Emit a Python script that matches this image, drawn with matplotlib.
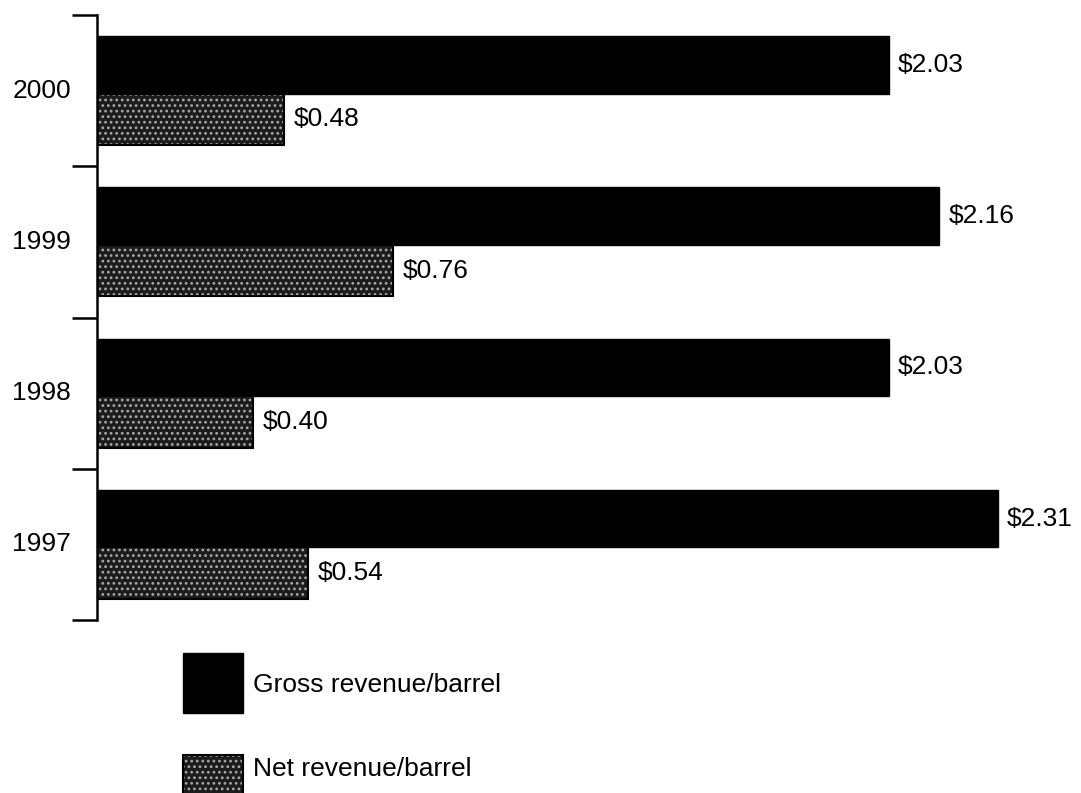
import matplotlib
matplotlib.use("Agg")
import matplotlib.pyplot as plt
from matplotlib.patches import Rectangle
import numpy as np

years = ["1997", "1998", "1999", "2000"]
gross = [2.31, 2.03, 2.16, 2.03]
net = [0.54, 0.40, 0.76, 0.48]
gross_labels = ["$2.31", "$2.03", "$2.16", "$2.03"]
net_labels = ["$0.54", "$0.40", "$0.76", "$0.48"]
legend_labels = ["Gross revenue/barrel", "Net revenue/barrel"]

plt.rcParams['font.family'] = ['Liberation Sans', 'DejaVu Sans']
plt.rcParams['hatch.linewidth'] = 1.2

W, H = 1081, 793
fig = plt.figure(figsize=(W / 100, H / 100), dpi=100)
fig.patch.set_facecolor("white")

left_px, right_px = 97, 97 + 975
top_px, bot_px = 15, 620
ax = fig.add_axes([left_px / W, 1 - bot_px / H, (right_px - left_px) / W, (bot_px - top_px) / H])

y = np.arange(len(years))
gh, nh = 0.38, 0.34
gc, nc = 0.17, -0.19

ax.barh(y + gc, gross, height=gh, color="black", edgecolor="black", linewidth=1)
ax.barh(y + nc, net, height=nh, color="#1c1c1c", edgecolor="#a8a8a8",
        linewidth=0, hatch="...")
ax.barh(y + nc, net, height=nh, facecolor="none", edgecolor="black", linewidth=1.5)

for yi, g, n, gl, nl in zip(y, gross, net, gross_labels, net_labels):
    ax.annotate(gl, (g, yi + gc), xytext=(6.5, 0), textcoords="offset points",
                va="center", ha="left", fontsize=19)
    ax.annotate(nl, (n, yi + nc), xytext=(7, 0), textcoords="offset points",
                va="center", ha="left", fontsize=19)

ax.set_xlim(0, 2.5)
ax.set_ylim(-0.5, 3.5)

for s in ["top", "right", "bottom"]:
    ax.spines[s].set_visible(False)
ax.spines["left"].set_linewidth(1.8)
ax.set_xticks([])
ax.set_yticks([-0.5, 0.5, 1.5, 2.5, 3.5])
ax.set_yticklabels([])
ax.tick_params(axis="y", length=18, width=1.8, direction="out")
ax.set_facecolor("none")

for yi, lab in zip(y, years):
    ax.annotate(lab, (0, yi), xytext=(-40, 0), textcoords="offset points",
                va="center", ha="center", fontsize=19)

# legend
sq = 60
fig.add_artist(Rectangle((183 / W, 1 - 713 / H), sq / W, sq / H, transform=fig.transFigure,
                         facecolor="black", edgecolor="black"))
fig.add_artist(Rectangle((183 / W, 1 - 815 / H), sq / W, sq / H, transform=fig.transFigure,
                         facecolor="#1c1c1c", edgecolor="#a8a8a8", linewidth=0, hatch="..."))
fig.add_artist(Rectangle((183 / W, 1 - 815 / H), sq / W, sq / H, transform=fig.transFigure,
                         facecolor="none", edgecolor="black", linewidth=1.5))
fig.text(253 / W, 1 - 685 / H, legend_labels[0], va="center", ha="left", fontsize=19)
fig.text(253 / W, 1 - 769 / H, legend_labels[1], va="center", ha="left", fontsize=19)

fig.savefig("out.png", dpi=100, facecolor="white")
